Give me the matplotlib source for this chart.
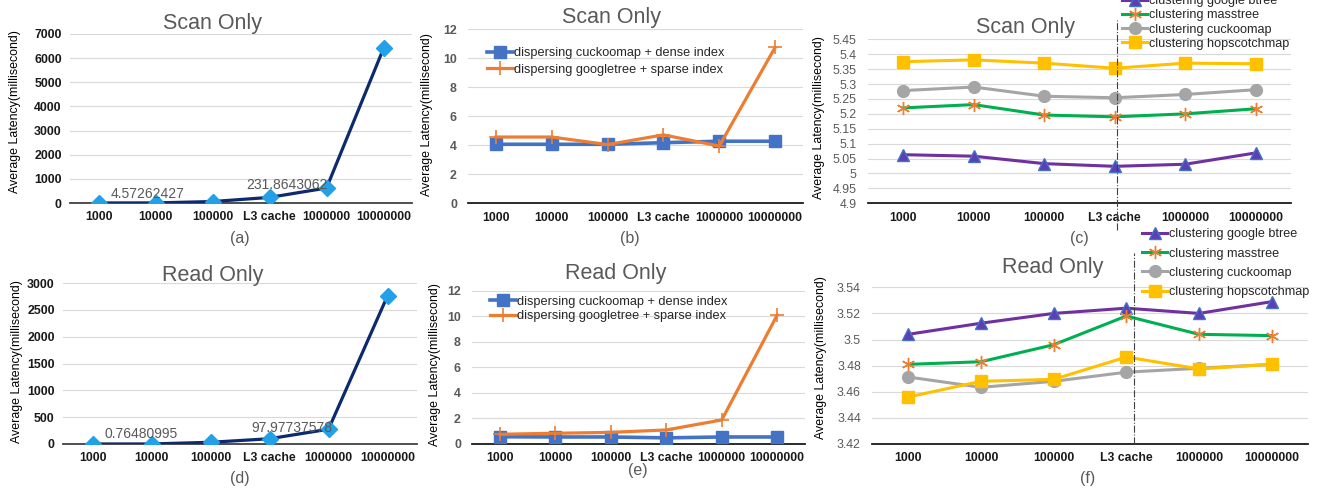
import numpy as np
import matplotlib
matplotlib.use('Agg')
import matplotlib.pyplot as plt

plt.rcParams['font.family'] = ['Liberation Sans', 'DejaVu Sans']

categories = ['1000', '10000', '100000', 'L3 cache', '1000000', '10000000']

# (a) / (d) dispersing latency
scan_dispersing = [1.1, 4.57262427, 60, 231.8643062, 620, 6400]
read_dispersing = [0.3, 0.76480995, 32, 97.97737578, 275, 2760]

# (b) / (e)
scan_cuckoo_dense = [4.07, 4.07, 4.07, 4.18, 4.28, 4.28]
scan_google_sparse = [4.57, 4.57, 4.05, 4.72, 3.95, 10.75]
read_cuckoo_dense = [0.57, 0.55, 0.55, 0.48, 0.55, 0.55]
read_google_sparse = [0.76, 0.84, 0.91, 1.1, 1.88, 10.1]

# (c) / (f) clustering
scan_btree = [5.063, 5.058, 5.033, 5.024, 5.031, 5.069]
scan_masstree = [5.22, 5.231, 5.196, 5.19, 5.2, 5.217]
scan_cuckoo = [5.278, 5.29, 5.259, 5.254, 5.265, 5.281]
scan_hopscotch = [5.375, 5.381, 5.37, 5.353, 5.37, 5.368]
read_btree = [3.504, 3.5125, 3.52, 3.524, 3.52, 3.529]
read_masstree = [3.481, 3.483, 3.496, 3.518, 3.504, 3.503]
read_cuckoo = [3.4713, 3.4634, 3.468, 3.475, 3.478, 3.481]
read_hopscotch = [3.456, 3.468, 3.4695, 3.4866, 3.4775, 3.481]

W, H = 1322, 493
fig = plt.figure(figsize=(W / 100, H / 100), dpi=100)

GRAY = '#595959'
x = np.arange(len(categories))


def box(x0, x1, top, bottom):
    return [x0 / W, 1 - bottom / H, (x1 - x0) / W, (bottom - top) / H]


def ftext(px, py, s, **kw):
    fig.text(px / W, 1 - py / H, s, ha='center', va='center', **kw)


def style(ax, lo, hi, step, ycolor, yweight, ypad, spine='#404040'):
    ax.set_xlim(-0.5, 5.5)
    ax.set_ylim(lo, hi)
    ticks = np.round(np.arange(lo, hi + step / 2, step), 3)
    ax.set_yticks(ticks)
    ax.set_yticklabels(['%g' % t for t in ticks], color=ycolor,
                       fontweight=yweight, fontsize=8.9)
    ax.set_xticks(x)
    ax.set_xticklabels(categories, fontweight='bold', fontsize=8.8,
                       color='#1a1a1a')
    ax.grid(axis='y', color='#d9d9d9', lw=0.8)
    ax.set_axisbelow(True)
    for s in ['top', 'right', 'left']:
        ax.spines[s].set_visible(False)
    ax.spines['bottom'].set_color(spine)
    ax.spines['bottom'].set_linewidth(1.3)
    ax.tick_params(axis='both', length=0)
    ax.tick_params(axis='y', pad=ypad)
    ax.tick_params(axis='x', pad=6)


ylabel = 'Average Latency(millisecond)'

# ---- (a) and (d)
for pos, vals, hi, step, title, tpos, lab, lpos, ylpos, offs in [
        (box(70, 412, 34, 203), scan_dispersing, 7000, 1000, 'Scan Only',
         (212, 24), '(a)', (240, 239), (15, 112), [(-8, 9), (17, 12)]),
        (box(63, 417, 283, 444), read_dispersing, 3000, 500, 'Read Only',
         (213, 275), '(d)', (240, 479), (17, 362), [(-10, 10), (22, 11)])]:
    ax = fig.add_axes(pos)
    style(ax, 0, hi, step, '#1a1a1a', 'bold', 6)
    ax.plot(x, vals, color='#0d2a6e', lw=2.3, marker='D', ms=8,
            mfc='#22a0e8', mec='#22a0e8', zorder=3)
    for i, (dx, dy) in zip([1, 3], offs):
        ax.annotate(str(vals[i]), xy=(x[i], vals[i]),
                    xytext=(dx * 0.72, dy * 0.72), textcoords='offset points',
                    ha='center', va='center', fontsize=10, color=GRAY,
                    zorder=4)
    ftext(*tpos, title, fontsize=15.5, color=GRAY)
    ftext(*lpos, lab, fontsize=11.5, color=GRAY)
    ftext(*ylpos, ylabel, fontsize=8.9, rotation=90)

# ---- (b) and (e)
for pos, dense, sparse, title, tpos, lab, lpos, ylpos, leg in [
        (box(468, 803, 29.3, 203.3), scan_cuckoo_dense, scan_google_sparse,
         'Scan Only', (611, 17), '(b)', (630, 239), (427, 115),
         (487, 47, 0.36)),
        (box(472, 805, 290.7, 444), read_cuckoo_dense, read_google_sparse,
         'Read Only', (616, 273), '(e)', (638, 470), (435, 365),
         (490, 295.5, 0.2))]:
    ax = fig.add_axes(pos)
    style(ax, 0, 12, 2, GRAY, 'bold', 8, spine='#1a1a1a')
    ax.plot(x, dense, color='#4472c4', lw=2.6, marker='s', ms=9,
            label='dispersing cuckoomap + dense index', zorder=3)
    ax.plot(x, sparse, color='#ed7d31', lw=2.3, marker='+', ms=10, mew=1.2,
            label='dispersing googletree + sparse index', zorder=4)
    ax.legend(loc='upper left', bbox_to_anchor=(leg[0] / W, 1 - leg[1] / H),
              bbox_transform=fig.transFigure, frameon=False, fontsize=9.2,
              borderpad=0, borderaxespad=0, handlelength=2.0,
              handletextpad=0.1, labelspacing=leg[2], labelcolor='#262626')
    ftext(*tpos, title, fontsize=15.5, color=GRAY)
    ftext(*lpos, lab, fontsize=11.5, color=GRAY)
    ftext(*ylpos, ylabel, fontsize=8.9, rotation=90)

# ---- (c) and (f)
asterisk = (6, 2, 0)
for pos, lo, hi, step, series, title, tpos, lab, lpos, ylpos, leg, vline in [
        (box(868, 1291, 39.3, 203.3), 4.9, 5.45, 0.05,
         [scan_btree, scan_masstree, scan_cuckoo, scan_hopscotch],
         'Scan Only', (1026, 27), '(c)', (1079, 239), (819, 118),
         (1122, -5, 0.18), (3.03, -0.163, 1.118)),
        (box(872, 1308, 287.3, 444), 3.42, 3.54, 0.02,
         [read_btree, read_masstree, read_cuckoo, read_hopscotch],
         'Read Only', (1053, 267), '(f)', (1088, 479), (821, 358),
         (1142, 228.5, 0.57), (3.1, 0.0, 1.219))]:
    ax = fig.add_axes(pos)
    style(ax, lo, hi, step, GRAY, 'normal', 8, spine='#1a1a1a')
    ax.plot(x, series[0], color='#7030a0', lw=2.2, marker='^', ms=8.5,
            mfc='#5b3fb5', mec='#4472c4', label='clustering google btree',
            zorder=3)
    ax.plot(x, series[1], color='#00b050', lw=2.2, marker=asterisk, ms=9.5,
            mec='#ed7d31', mew=1.0, label='clustering masstree', zorder=3)
    ax.plot(x, series[2], color='#a5a5a5', lw=2.2, marker='o', ms=8.5,
            label='clustering cuckoomap', zorder=3)
    ax.plot(x, series[3], color='#ffc000', lw=2.2, marker='s', ms=8.5,
            label='clustering hopscotchmap', zorder=3)
    ax.axvline(vline[0], ymin=vline[1], ymax=vline[2], color='#404040',
               lw=0.8, ls='-.', clip_on=False, zorder=5)
    ax.legend(loc='upper left', bbox_to_anchor=(leg[0] / W, 1 - leg[1] / H),
              bbox_transform=fig.transFigure, frameon=False, fontsize=9.1,
              borderpad=0, borderaxespad=0, handlelength=2.0,
              handletextpad=0.1, labelspacing=leg[2], labelcolor='#262626')
    ftext(*tpos, title, fontsize=15.5, color=GRAY)
    ftext(*lpos, lab, fontsize=11.5, color=GRAY)
    ftext(*ylpos, ylabel, fontsize=8.9, rotation=90)

fig.savefig('out.png', dpi=100)
